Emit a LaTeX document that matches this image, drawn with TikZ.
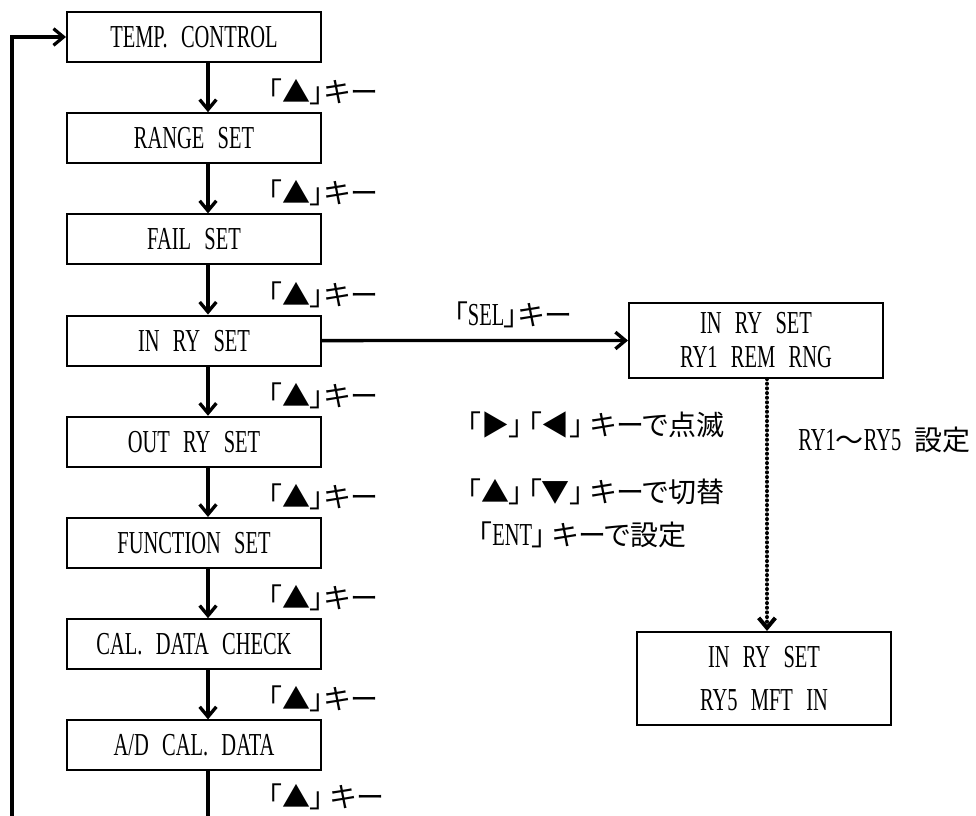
\documentclass[tikz,border=0pt]{standalone}
\usepackage{fontspec}
\setmainfont[FakeStretch=0.64,WordSpace=2.6]{Liberation Serif}
\newfontfamily\jpfont[RawFeature=+palt]{Noto Sans CJK JP}
\usetikzlibrary{arrows.meta,calc}
\newcommand\boxfont{\fontsize{24pt}{26pt}\selectfont}
\newcommand\latfont{\fontsize{24pt}{26pt}\selectfont}
\newcommand\jpt[1]{{\jpfont\fontsize{21pt}{26pt}\selectfont #1}}
\begin{document}
\begin{tikzpicture}[x=0.75pt,y=-0.75pt,
  box/.style={draw,line width=1.5pt,minimum width=190.5pt,minimum height=37.5pt,inner sep=0pt,font=\boxfont},
  rbox/.style={draw,line width=1.5pt,minimum width=190.5pt,inner sep=0pt,align=center},
  tip/.style={-{Straight Barb[length=7.5pt,width=12.5pt]}},
  flow/.style={line width=2.5pt,tip},
  lab/.style={anchor=west,inner sep=0pt,font=\latfont},
]
\clip (0,0) rectangle (976,816);
% main column
\node[box] (b1) at (194,37.0)  {TEMP. CONTROL};
\node[box] (b2) at (194,138.2) {RANGE SET};
\node[box] (b3) at (194,239.4) {FAIL SET};
\node[box] (b4) at (194,340.6) {IN RY SET};
\node[box] (b5) at (194,441.8) {OUT RY SET};
\node[box] (b6) at (194,543.0) {FUNCTION SET};
\node[box] (b7) at (194,644.2) {CAL. DATA CHECK};
\node[box] (b8) at (194,745.4) {A/D CAL. DATA};
% labels
\node[lab] (l1) at (268,92.0)  {\jpt{「▲」キー}};
\node[lab] (l2) at (268,193.2) {\jpt{「▲」キー}};
\node[lab] (l3) at (268,294.4) {\jpt{「▲」キー}};
\node[lab] (l4) at (268,395.6) {\jpt{「▲」キー}};
\node[lab] (l5) at (268,496.8) {\jpt{「▲」キー}};
\node[lab] (l6) at (268,598.0) {\jpt{「▲」キー}};
\node[lab] (l7) at (268,699.2) {\jpt{「▲」キー}};
\node[lab] (l8) at (268,797.0) {\jpt{「▲」 キー}};
% arrows
\foreach \a/\b in {b1/b2,b2/b3,b3/b4,b4/b5,b5/b6,b6/b7,b7/b8}
  \draw[flow] ($(\a.south)+(14,0)$) -- ($(\b.north)+(14,0)$);
% loop back
\coordinate (lpA) at (208,850);
\coordinate (lpB) at (12,850);
\draw[line width=2.4pt,tip] ($(b8.south)+(14,0)$) -- (lpA) -- (lpB) |- (b1.west);
% right side
\node[rbox,minimum height=56.25pt,font=\fontsize{24pt}{25.5pt}\selectfont] (r1) at (756,340.5) {IN RY SET\\RY1 REM RNG};
\node[rbox,minimum height=69.75pt,font=\fontsize{24pt}{32.25pt}\selectfont] (r2) at (764,678.5) {IN RY SET\\RY5 MFT IN};
\draw[flow] (b4.east) -- (r1.west);
\node[inner sep=0pt,font=\latfont] (sel) at (513,315) {\jpt{「}SEL\jpt{」キー}};
\draw[line width=3pt,line cap=round,dash pattern=on 0.1pt off 3.4pt,tip] ($(r1.south)+(11,0)$) -- ($(r2.north)+(3,0)$);
\node[lab] (t1) at (467,425) {\jpt{「▶」\,「◀」\ キーで点滅}};
\node[lab] (t2) at (467,492) {\jpt{「▲」\,「▼」\ キーで切替}};
\node[lab] (t3) at (478,535) {\jpt{「}ENT\jpt{」\ キーで設定}};
\node[lab] (t4) at (798,440) {RY1\jpt{～}RY5 \jpt{設定}};
\end{tikzpicture}
\end{document}
